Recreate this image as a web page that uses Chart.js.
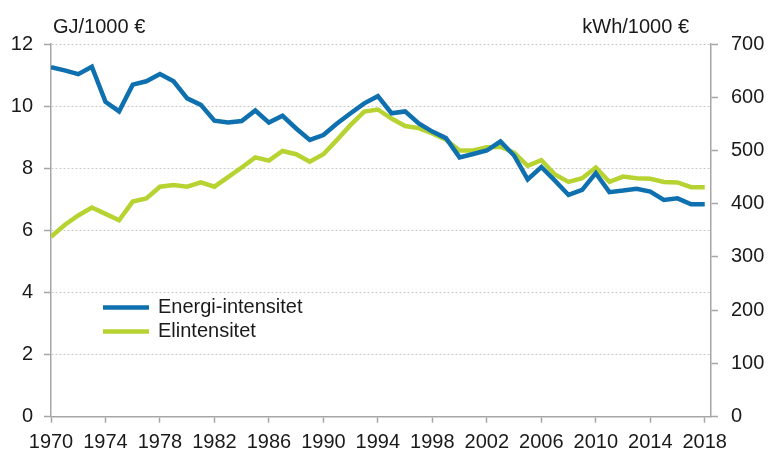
<!DOCTYPE html>
<html>
<head>
<meta charset="utf-8">
<script src="https://cdn.jsdelivr.net/npm/chart.js@4/dist/chart.umd.min.js"></script>
<style>
  html, body { margin: 0; padding: 0; background: #fff; }
  #wrap { width: 768px; height: 453px; position: relative; }
</style>
</head>
<body>
<div id="wrap"><canvas id="intensityChart"></canvas></div>
<script>
// Years on the x axis
const years = [
    1970, 1971, 1972, 1973, 1974, 1975, 1976, 1977, 1978, 1979,
    1980, 1981, 1982, 1983, 1984, 1985, 1986, 1987, 1988, 1989,
    1990, 1991, 1992, 1993, 1994, 1995, 1996, 1997, 1998, 1999,
    2000, 2001, 2002, 2003, 2004, 2005, 2006, 2007, 2008, 2009,
    2010, 2011, 2012, 2013, 2014, 2015, 2016, 2017, 2018
];
const yearTicks = [1970, 1974, 1978, 1982, 1986, 1990, 1994, 1998, 2002, 2006, 2010, 2014, 2018];

// Energi-intensitet, GJ/1000 € (left axis)
const energyIntensity = [
    11.25, 11.15, 11.03, 11.27, 10.14, 9.83, 10.69, 10.8, 11.03, 10.8,
    10.25, 10.04, 9.53, 9.47, 9.52, 9.86, 9.47, 9.69, 9.28, 8.91,
    9.07, 9.44, 9.77, 10.09, 10.32, 9.77, 9.83, 9.44, 9.18, 8.97,
    8.35, 8.46, 8.57, 8.86, 8.41, 7.64, 8.04, 7.6, 7.14, 7.3,
    7.84, 7.23, 7.28, 7.34, 7.25, 6.98, 7.03, 6.84, 6.84
];

// Elintensitet, kWh/1000 € (right axis)
const elIntensity = [
    338, 360, 378, 393, 381, 369, 404, 410, 432, 435,
    432, 440, 432, 450, 468, 487, 481, 499, 493, 479,
    493, 520, 548, 573, 577, 560, 546, 542, 532, 520,
    500, 500, 506, 507, 496, 471, 482, 455, 441, 448,
    468, 441, 451, 448, 447, 441, 440, 431, 431
];

const leftTicks = [0, 2, 4, 6, 8, 10, 12];
const rightTicks = [0, 100, 200, 300, 400, 500, 600, 700];

const blue = '#0f70b0';
const green = '#b6d332';
const axisGrey = '#a6a6a6';
const font = { family: '"Liberation Sans", Arial, sans-serif', size: 20 };

// Unit labels and the inner legend
const decorations = {
    id: 'decorations',
    afterDraw(chart) {
        const ctx = chart.ctx;
        ctx.save();
        ctx.font = '20px "Liberation Sans", Arial, sans-serif';
        ctx.fillStyle = '#1a1a1a';
        ctx.textBaseline = 'alphabetic';
        ctx.textAlign = 'left';
        ctx.fillText('GJ/1000 €', 53, 33);
        ctx.textAlign = 'right';
        ctx.fillText('kWh/1000 €', 689, 33);

        ctx.textAlign = 'left';
        ctx.textBaseline = 'middle';
        chart.data.datasets.forEach((ds, i) => {
            const y = 307.5 + i * 24;
            ctx.strokeStyle = ds.borderColor;
            ctx.lineWidth = 4.5;
            ctx.beginPath();
            ctx.moveTo(103, y);
            ctx.lineTo(149, y);
            ctx.stroke();
            ctx.fillText(ds.label, 158, y);
        });
        ctx.restore();
    }
};

const ctxIntensity = document.getElementById('intensityChart').getContext('2d');
new Chart(ctxIntensity, {
    type: 'line',
    data: {
        datasets: [{
            label: 'Energi-intensitet',
            data: years.map((y, i) => ({ x: y, y: energyIntensity[i] })),
            borderColor: blue,
            borderWidth: 4.5,
            pointRadius: 0,
            tension: 0,
            yAxisID: 'y'
        }, {
            label: 'Elintensitet',
            data: years.map((y, i) => ({ x: y, y: elIntensity[i] })),
            borderColor: green,
            borderWidth: 4.5,
            pointRadius: 0,
            tension: 0,
            yAxisID: 'y1'
        }]
    },
    options: {
        responsive: true,
        maintainAspectRatio: false,
        animation: false,
        layout: { padding: { top: 44, left: 0, right: 0, bottom: 0 } },
        plugins: {
            legend: { display: false },
            tooltip: { enabled: false }
        },
        scales: {
            x: {
                type: 'linear',
                min: 1970,
                max: 2018.46,
                afterBuildTicks: scale => { scale.ticks = yearTicks.map(v => ({ value: v })); },
                afterFit: scale => { scale.height = 36.3; },
                grid: { drawOnChartArea: false, drawTicks: true, tickLength: 6, tickColor: axisGrey, tickWidth: 1.5 },
                border: { color: axisGrey, width: 1.5 },
                ticks: { font: font, color: '#1a1a1a', padding: 8, maxRotation: 0, autoSkip: false, callback: v => String(v) }
            },
            y: {
                position: 'left',
                min: 0,
                max: 12,
                afterBuildTicks: scale => { scale.ticks = leftTicks.map(v => ({ value: v })); },
                afterFit: scale => { scale.width = 51; },
                grid: { color: '#c8c8c8', lineWidth: 1, drawTicks: true, tickLength: 7, tickColor: axisGrey, tickWidth: 1.5, tickBorderDash: [] },
                border: { color: axisGrey, width: 1.5, dash: [2, 2] },
                ticks: { font: font, color: '#1a1a1a', padding: 11 }
            },
            y1: {
                position: 'right',
                min: 0,
                max: 700,
                afterBuildTicks: scale => { scale.ticks = rightTicks.map(v => ({ value: v })); },
                afterFit: scale => { scale.width = 57; },
                grid: { drawOnChartArea: false, drawTicks: true, tickLength: 7, tickColor: axisGrey, tickWidth: 1.5 },
                border: { color: axisGrey, width: 1.5 },
                ticks: { font: font, color: '#1a1a1a', padding: 13 }
            }
        }
    },
    plugins: [decorations]
});
</script>
</body>
</html>
